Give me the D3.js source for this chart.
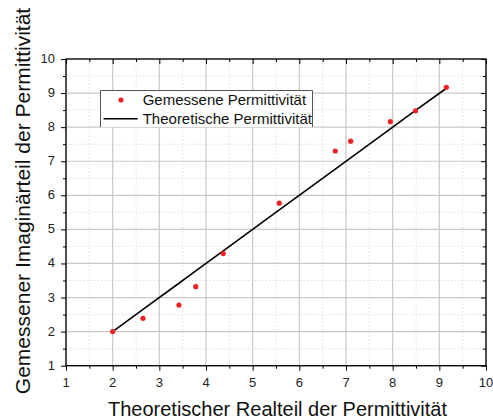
<!DOCTYPE html>
<html><head><meta charset="utf-8">
<script src="https://cdn.jsdelivr.net/npm/d3@7"></script>
<style>body{margin:0;background:#fff}svg{display:block}text{font-family:"Liberation Sans",Arial,sans-serif}</style>
</head><body>
<script>
const measuredX = [2.0, 2.65, 3.42, 3.78, 4.37, 5.57, 6.77, 7.10, 7.95, 8.49, 9.15];
const measuredY = [2.0, 2.39, 2.78, 3.32, 4.29, 5.77, 7.30, 7.59, 8.16, 8.48, 9.17];
const theoX = [2.0, 2.65, 3.42, 3.78, 4.37, 5.57, 6.77, 7.10, 7.95, 8.49, 9.13];
const theoY = [2.0, 2.65, 3.42, 3.78, 4.37, 5.57, 6.77, 7.10, 7.95, 8.49, 9.12];
const majorTicks = [1,2,3,4,5,6,7,8,9,10];
const minorTicks = [1.5,2.5,3.5,4.5,5.5,6.5,7.5,8.5,9.5];
const legendLabels = ["Gemessene Permittivität", "Theoretische Permittivität"];
const xTitle = "Theoretischer Realteil der Permittivität";
const yTitle = "Gemessener Imaginärteil der Permittivität";

const W = 493, H = 419;
const L = 66, R = 486, T = 59, B = 365.7;
const x = d3.scaleLinear().domain([1,10]).range([L,R]);
const y = d3.scaleLinear().domain([1,10]).range([B,T]);

const svg = d3.select("body").append("svg").attr("width",W).attr("height",H);

// grid
const g = svg.append("g");
g.selectAll(".mx").data(minorTicks).enter().append("line")
  .attr("x1",d=>x(d)).attr("x2",d=>x(d)).attr("y1",T).attr("y2",B)
  .attr("stroke","#d8d8d8").attr("stroke-width",0.8).attr("stroke-dasharray","1.5,2");
g.selectAll(".my").data(minorTicks).enter().append("line")
  .attr("y1",d=>y(d)).attr("y2",d=>y(d)).attr("x1",L).attr("x2",R)
  .attr("stroke","#d8d8d8").attr("stroke-width",0.8).attr("stroke-dasharray","1.5,2");
g.selectAll(".Mx").data(majorTicks).enter().append("line")
  .attr("x1",d=>x(d)).attr("x2",d=>x(d)).attr("y1",T).attr("y2",B)
  .attr("stroke","#c8c8c8").attr("stroke-width",1.2);
g.selectAll(".My").data(majorTicks).enter().append("line")
  .attr("y1",d=>y(d)).attr("y2",d=>y(d)).attr("x1",L).attr("x2",R)
  .attr("stroke","#c8c8c8").attr("stroke-width",1.2);

// axes: outward ticks on left/bottom, inward mirror ticks on top/right
function styleAxis(sel){ sel.select(".domain").remove(); sel.selectAll("line").attr("stroke","#000"); sel.selectAll("text").remove(); }
function addAxis(axisFn, scale, tr, major, minor){
  svg.append("g").attr("transform",tr).call(axisFn(scale).tickValues(majorTicks).tickSize(major)).call(styleAxis);
  svg.append("g").attr("transform",tr).call(axisFn(scale).tickValues(minorTicks).tickSize(minor)).call(styleAxis);
}
addAxis(d3.axisBottom, x, `translate(0,${B})`, 5, 3);
addAxis(d3.axisBottom, x, `translate(0,${T})`, 5, 3);
addAxis(d3.axisLeft, y, `translate(${L},0)`, 5, 3);
addAxis(d3.axisLeft, y, `translate(${R},0)`, 5, 3);

// frame
svg.append("rect").attr("x",L).attr("y",T).attr("width",R-L).attr("height",B-T)
  .attr("fill","none").attr("stroke","#000").attr("stroke-width",1.3);

// tick labels
svg.append("g").selectAll("text").data(majorTicks).enter().append("text")
  .attr("x",d=>x(d)).attr("y",386.5).attr("text-anchor","middle")
  .attr("font-size",13).attr("fill","#222").text(d=>d);
svg.append("g").selectAll("text").data(majorTicks).enter().append("text")
  .attr("x",55).attr("y",d=>y(d)+4).attr("text-anchor","end")
  .attr("font-size",13).attr("fill","#222").text(d=>d);

// theoretical line
const line = d3.line().x(d=>x(d[0])).y(d=>y(d[1]));
svg.append("path").datum(theoX.map((v,i)=>[v,theoY[i]])).attr("d",line)
  .attr("fill","none").attr("stroke","#000").attr("stroke-width",1.6);

// measured points
svg.append("g").selectAll("circle").data(measuredX.map((v,i)=>[v,measuredY[i]])).enter().append("circle")
  .attr("cx",d=>x(d[0])).attr("cy",d=>y(d[1])).attr("r",2.6).attr("fill","#ee2222");

// legend
const lg = svg.append("g");
lg.append("rect").attr("x",100.5).attr("y",90).attr("width",212).attr("height",37).attr("fill","#fff");
lg.append("path").attr("d","M100.5,127V90.5H312.5V127").attr("fill","none").attr("stroke","#555").attr("stroke-width",1);
lg.append("circle").attr("cx",121).attr("cy",100).attr("r",2.6).attr("fill","#ee2222");
lg.append("line").attr("x1",103.5).attr("x2",137.7).attr("y1",118.7).attr("y2",118.7).attr("stroke","#000").attr("stroke-width",1.6);
lg.selectAll("text").data(legendLabels).enter().append("text")
  .attr("x",142.7).attr("y",(d,i)=>105+i*19).attr("font-size",15).attr("fill","#111").text(d=>d);

// titles
svg.append("text").attr("x",277.5).attr("y",416).attr("text-anchor","middle")
  .attr("font-size",20).attr("fill","#111").text(xTitle);
svg.append("text").attr("transform","translate(30,201) rotate(-90)").attr("text-anchor","middle")
  .attr("font-size",21).attr("fill","#111").text(yTitle);
</script>
</body></html>
